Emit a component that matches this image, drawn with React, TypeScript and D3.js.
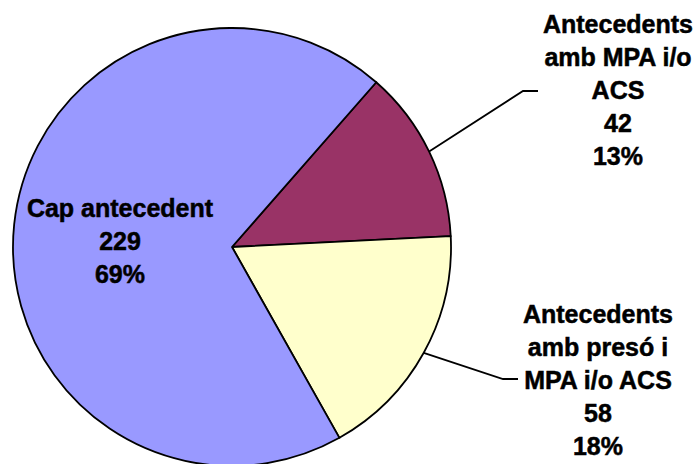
import React from "react";
import * as d3 from "d3";

const categories = [
  "Antecedents amb MPA i/o ACS",
  "Antecedents amb presó i MPA i/o ACS",
  "Cap antecedent",
];
const values = [42, 58, 229];
const percents = ["13%", "18%", "69%"];
const labelLines = [
  ["Antecedents", "amb MPA i/o", "ACS"],
  ["Antecedents", "amb presó i", "MPA i/o ACS"],
  ["Cap antecedent"],
];
const colors = ["#993366", "#FFFFCC", "#9999FF"];

const W = 700;
const H = 464;
const cx = 232;
const cy = 247;
const R = 219;
const startDeg = 41.2;

const labelLayout: Array<{ x: number; y: number; leader: null | { bx: number; by: number; ex: number } }> = [
  { x: 618, y: 33, leader: { bx: 523, by: 91, ex: 538 } },
  { x: 598, y: 323, leader: { bx: 503, by: 379, ex: 518 } },
  { x: 120, y: 217, leader: null },
];

export default function App() {
  const pie = d3
    .pie<number>()
    .sort(null)
    .value((d) => d)
    .startAngle((startDeg * Math.PI) / 180)
    .endAngle((startDeg * Math.PI) / 180 + 2 * Math.PI);
  const arcs = pie(values);
  const arc = d3.arc<d3.PieArcDatum<number>>().innerRadius(0).outerRadius(R);
  const lineH = 33;

  return (
    <svg
      width={W}
      height={H}
      style={{ position: "fixed", left: 0, top: 0, display: "block", background: "#fff" }}
    >
      <g transform={`translate(${cx},${cy})`}>
        {arcs.map((a, i) => (
          <path key={categories[i]} d={arc(a) || ""} fill={colors[i]} stroke="#000" strokeWidth={1.8} strokeLinejoin="round" />
        ))}
      </g>
      {arcs.map((a, i) => {
        const L = labelLayout[i];
        if (!L.leader) return null;
        const mid = (a.startAngle + a.endAngle) / 2;
        const px = cx + R * Math.sin(mid);
        const py = cy - R * Math.cos(mid);
        return (
          <polyline
            key={"l" + i}
            points={`${px},${py} ${L.leader.bx},${L.leader.by} ${L.leader.ex},${L.leader.by}`}
            fill="none"
            stroke="#000"
            strokeWidth={1.8}
          />
        );
      })}
      {arcs.map((a, i) => {
        const L = labelLayout[i];
        const lines = [...labelLines[i], String(values[i]), percents[i]];
        return (
          <text
            key={"t" + i}
            textAnchor="middle"
            fontFamily="'Liberation Sans', Arial, sans-serif"
            fontWeight="bold"
            fontSize={25}
            fill="#000"
            stroke="#000"
            strokeWidth={0.5}
          >
            {lines.map((s, j) => (
              <tspan key={j} x={L.x} y={L.y + j * lineH}>
                {s}
              </tspan>
            ))}
          </text>
        );
      })}
    </svg>
  );
}
